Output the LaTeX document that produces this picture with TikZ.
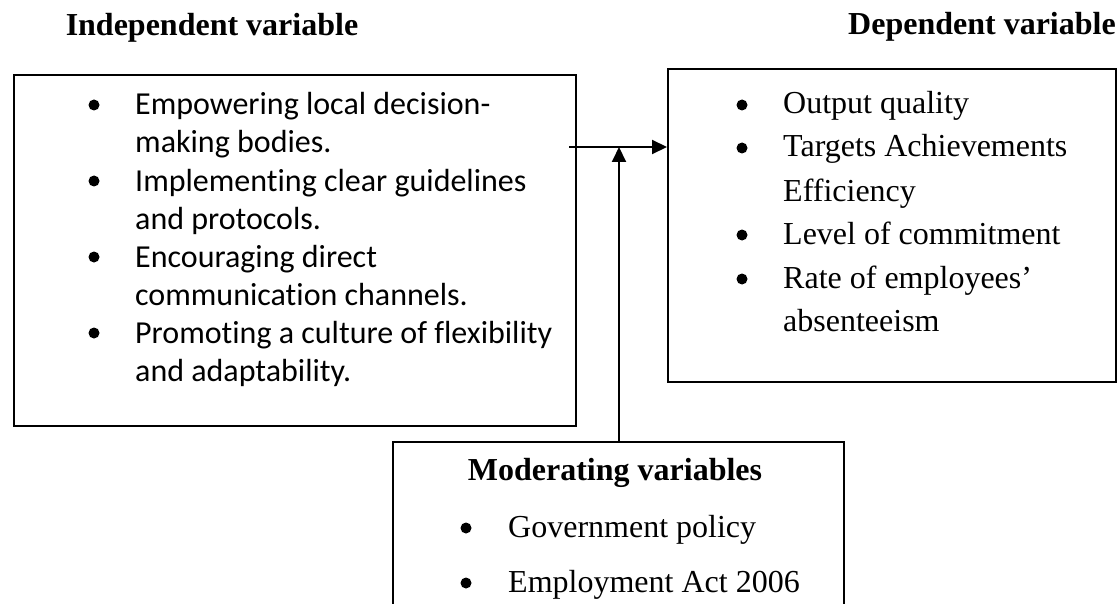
\documentclass[tikz,border=0pt]{standalone}
\usepackage{fontspec}
\setmainfont{Liberation Serif}[Ligatures = {TeX, NoCommon}]
\newfontfamily\calibri{Carlito}[Ligatures = NoCommon]
\usetikzlibrary{arrows.meta}

\tikzset{
	varbox/.style = {draw, line width = 2pt, inner sep = 0pt, anchor = north west},
	heading/.style = {font = \fontsize{32}{38}\selectfont\bfseries, anchor = base, inner sep = 0pt},
	dot/.style = {circle, fill, inner sep = 0pt, minimum size = 11pt},
	item/.style = {font = \fontsize{32}{38}\selectfont, anchor = base west, inner sep = 0pt},
	calitem/.style = {font = \fontsize{32}{38}\selectfont\calibri, anchor = base west, inner sep = 0pt}
}

\begin{document}
\begin{tikzpicture} [x = 1pt, y = -1pt, >={Triangle[length = 15pt, width = 14pt]}]
		\useasboundingbox (0, 0) rectangle (1118, 604);
		\clip (0, 0) rectangle (1118, 604);

		\node[heading] (indepHead) at (212, 36) {Independent variable};
		\node[heading] (depHead) at (982, 35) {Dependent variable};

		% independent variable
		\node[varbox, minimum width = 562pt, minimum height = 351pt] (indep) at (13, 74) {};
		\node[dot] (indepDot1) at (94, 105) {};
		\node[calitem] (indep1a) at (135, 115) {Empowering local decision-};
		\node[calitem] (indep1b) at (135, 153) {making bodies.};
		\node[dot] (indepDot2) at (94, 181) {};
		\node[calitem] (indep2a) at (135, 191) {Implementing clear guidelines};
		\node[calitem] (indep2b) at (135, 229) {and protocols.};
		\node[dot] (indepDot3) at (94, 257) {};
		\node[calitem] (indep3a) at (135, 267) {Encouraging direct};
		\node[calitem] (indep3b) at (135, 305) {communication channels.};
		\node[dot] (indepDot4) at (94, 333) {};
		\node[calitem] (indep4a) at (135, 343) {Promoting a culture of flexibility};
		\node[calitem] (indep4b) at (135, 381) {and adaptability.};


		% dependent variable
		\node[varbox, minimum width = 448pt, minimum height = 313pt] (dep) at (667, 68) {};
		\node[dot] (depDot1) at (742, 105) {};
		\node[item] (dep1) at (783, 114) {Output quality};
		\node[dot] (depDot2) at (742, 148) {};
		\node[item] (dep2a) at (783, 157) {Targets Achievements};
		\node[item] (dep2b) at (783, 201) {Efficiency};
		\node[dot] (depDot3) at (742, 235) {};
		\node[item] (dep3) at (783, 244) {Level of commitment};
		\node[dot] (depDot4) at (742, 279) {};
		\node[item] (dep4a) at (783, 288) {Rate of employees’};
		\node[item] (dep4b) at (783, 331) {absenteeism};


		% moderating variables, box runs off the bottom
		\node[varbox, minimum width = 451pt, minimum height = 200pt] (mod) at (392, 441) {};
		\node[heading] (modHead) at (615, 480) {Moderating variables};
		\node[dot] (modDot1) at (466, 528) {};
		\node[item] (mod1) at (508, 537) {Government policy};
		\node[dot] (modDot2) at (466, 583) {};
		\node[item] (mod2) at (508, 592) {Employment Act 2006};

		% edges
		\coordinate (meet) at (619, 147);
		\coordinate (hStart) at (569, 147);
		\draw[->, line width = 2pt] (hStart) -- (dep.west |- meet);
		\draw[->, line width = 2pt] (mod.north -| meet) -- (meet);


		\end{tikzpicture}
\end{document}
